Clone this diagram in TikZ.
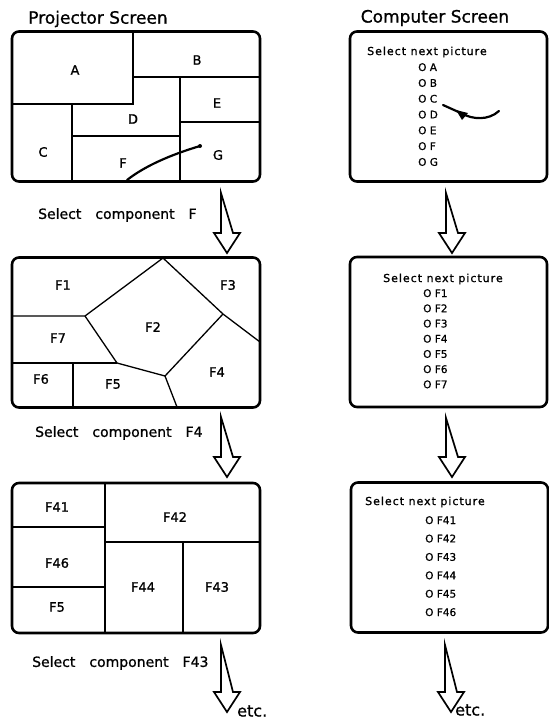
\documentclass[tikz,border=0pt]{standalone}
\usepackage{fontspec}
\usepackage{tikz}
\usetikzlibrary{positioning}
\setmainfont{DejaVu Sans}[FakeBold=1]
\newfontfamily\widefont[LetterSpace=9, FakeBold=1]{DejaVu Sans}
\tikzstyle{screen} = [draw, line width=2.6pt, rounded corners=7pt, inner sep=0pt]
\tikzstyle{projscreen} = [screen, minimum width=248pt, minimum height=150pt]
\tikzstyle{compscreen} = [screen, minimum width=197pt, minimum height=150pt]
\tikzstyle{partline} = [line width=1.3pt]
\tikzstyle{regionlabel} = [font=\fontsize{13}{15}\selectfont, inner sep=0pt]
\tikzstyle{screentitle} = [font=\fontsize{17}{20}\selectfont, inner sep=0pt]
\tikzstyle{selectlabel} = [font=\fontsize{14}{16}\selectfont, anchor=west, inner sep=0pt]
\tikzstyle{menuhead} = [font=\widefont\fontsize{11}{13}\selectfont, anchor=west, inner sep=0pt]
\tikzstyle{pen} = [line width=2.2pt, line cap=round]
\tikzset{pics/downarrow/.style={code={
  \draw[line width=1.7pt, line join=miter] (-6,0) -- (-6,#1-20) -- (-13,#1-20) -- (0,#1) -- (13,#1-20) -- (6,#1-20) -- cycle;}}}

\begin{document}
\begin{tikzpicture}[x=1pt, y=-1pt]
    \useasboundingbox (0,0) rectangle (549,721);

    % titles
    \node[screentitle] (projtitle) at (98,19) {Projector Screen};
    \node[screentitle] (comptitle) at (435,18) {Computer Screen};

    % first projector screen
    \node[projscreen] (proj1) at (136,106.5) {};
    \draw[partline] (133,31) -- (133,104) -- (11,104);
    \draw[partline] (133,77) -- (260,77);
    \draw[partline] (180,77) -- (180,182);
    \draw[partline] (180,122) -- (260,122);
    \draw[partline] (72,104) -- (72,182);
    \draw[partline] (72,136) -- (180,136);
    \node[regionlabel] (ra) at (75,70) {A};
    \node[regionlabel] (rb) at (197,60) {B};
    \node[regionlabel] (rc) at (43,152) {C};
    \node[regionlabel] (rd) at (133,119) {D};
    \node[regionlabel] (re) at (217,103) {E};
    \node[regionlabel] (rf) at (123,163) {F};
    \node[regionlabel] (rg) at (218,155) {G};
    \draw[pen] (127,180) .. controls (145,166) and (170,155) .. (200,146);
    \fill (200,146) circle (2pt);

    % first computer screen
    \node[compscreen] (comp1) at (448.5,106.5) {};
    \node[menuhead] (head1) at (367,52) {Select next picture};
    \node[font=\fontsize{10.5}{15.8}\selectfont, anchor=north west, align=left, inner sep=0pt] (list1) at (418,63)
        {O A\\O B\\O C\\O D\\O E\\O F\\O G};
    \draw[pen] (443,105) -- (463,114) .. controls (472,119) and (488,121) .. (499,111);
    \fill (456,110) -- (468,113) -- (462,120) -- cycle;

    % first step
    \node[selectlabel] (sel1) at (38,215) {Select\quad component\quad F};
    \pic (arrowp1) at (227,193) {downarrow=60};
    \pic (arrowc1) at (452,193) {downarrow=60};

    % second projector screen
    \node[projscreen] (proj2) at (136,332.5) {};
    \draw[partline] (12,316) -- (85,316) -- (163,258);
    \draw[partline] (163,258) -- (223,314) -- (260,342);
    \draw[partline] (85,316) -- (117,363) -- (165,376) -- (223,314);
    \draw[partline] (12,363) -- (117,363);
    \draw[partline] (165,376) -- (177,407);
    \draw[partline] (73,363) -- (73,407);
    \node[regionlabel] (rf1) at (63,285) {F1};
    \node[regionlabel] (rf2) at (153,327) {F2};
    \node[regionlabel] (rf3) at (228,285) {F3};
    \node[regionlabel] (rf4) at (217,372) {F4};
    \node[regionlabel] (rf5) at (113,384) {F5};
    \node[regionlabel] (rf6) at (41,379) {F6};
    \node[regionlabel] (rf7) at (58,338) {F7};

    % second computer screen
    \node[compscreen] (comp2) at (448.5,332) {};
    \node[menuhead] (head2) at (383,279) {Select next picture};
    \node[font=\fontsize{10.5}{15.2}\selectfont, anchor=north west, align=left, inner sep=0pt] (list2) at (423,289)
        {O F1\\O F2\\O F3\\O F4\\O F5\\O F6\\O F7};

    % second step
    \node[selectlabel] (sel2) at (35,433) {Select\quad component\quad F4};
    \pic (arrowp2) at (227,417) {downarrow=60};
    \pic (arrowc2) at (452,418) {downarrow=59};

    % third projector screen
    \node[projscreen] (proj3) at (136,558) {};
    \draw[partline] (105,483) -- (105,633);
    \draw[partline] (12,527) -- (105,527);
    \draw[partline] (12,587) -- (105,587);
    \draw[partline] (105,542) -- (260,542);
    \draw[partline] (183,542) -- (183,633);
    \node[regionlabel] (rf41) at (57,507) {F41};
    \node[regionlabel] (rf42) at (175,517) {F42};
    \node[regionlabel] (rf46) at (57,563) {F46};
    \node[regionlabel] (rf44) at (143,587) {F44};
    \node[regionlabel] (rf43) at (217,587) {F43};
    \node[regionlabel] (rf5b) at (57,607) {F5};

    % third computer screen
    \node[compscreen] (comp3) at (449.5,557.5) {};
    \node[menuhead] (head3) at (365,502) {Select next picture};
    \node[font=\fontsize{10.5}{18.4}\selectfont, anchor=north west, align=left, inner sep=0pt] (list3) at (425,516)
        {O F41\\O F42\\O F43\\O F44\\O F45\\O F46};

    % third step
    \node[selectlabel] (sel3) at (32,663) {Select\quad component\quad F43};
    \pic (arrowp3) at (227,645) {downarrow=67};
    \pic (arrowc3) at (451,645) {downarrow=67};
    \node[font=\fontsize{16}{18}\selectfont, anchor=west, inner sep=0pt] (etcp) at (237,711) {etc.};
    \node[font=\fontsize{16}{18}\selectfont, anchor=west, inner sep=0pt] (etcc) at (455,710) {etc.};
\end{tikzpicture}
\end{document}
